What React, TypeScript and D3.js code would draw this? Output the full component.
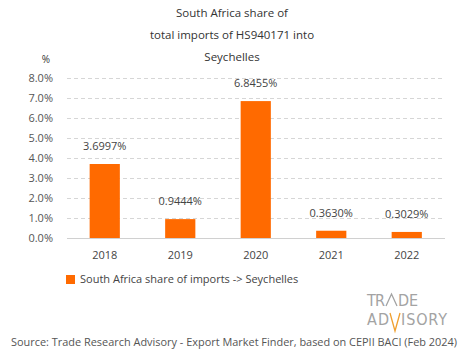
import React, { useEffect, useRef } from "react";
import * as d3 from "d3";

const years = ["2018", "2019", "2020", "2021", "2022"];
const shares = [3.6997, 0.9444, 6.8455, 0.363, 0.3029];
const yTicks = [0, 1, 2, 3, 4, 5, 6, 7, 8];
const titleLines = ["South Africa share of", "total imports of HS940171 into", "Seychelles"];
const legendLabel = "South Africa share of imports -> Seychelles";
const sourceText = "Source: Trade Research Advisory - Export Market Finder, based on CEPII BACI (Feb 2024)";

const W = 465;
const H = 359;
const FONT = "'Open Sans', sans-serif";
const ORANGE = "#ff6a00";

export default function App() {
  const ref = useRef<SVGSVGElement>(null);

  useEffect(() => {
    const svg = d3.select(ref.current);
    svg.selectAll("*").remove();

    const margin = { top: 78, right: 20, bottom: 121, left: 67 };
    const x = d3
      .scaleBand()
      .domain(years)
      .range([margin.left, W - margin.right - 0.5])
      .paddingInner(0.6)
      .paddingOuter(0.3);
    const y = d3.scaleLinear().domain([0, 8]).range([H - margin.bottom, margin.top]);

    // title
    svg
      .append("g")
      .selectAll("text")
      .data(titleLines)
      .enter()
      .append("text")
      .attr("x", 232)
      .attr("y", (d, i) => 17 + i * 22)
      .attr("text-anchor", "middle")
      .attr("font-size", 11.5)
      .attr("fill", "#333")
      .text((d) => d);

    svg
      .append("text")
      .attr("x", 46)
      .attr("y", 63)
      .attr("text-anchor", "middle")
      .attr("font-size", 10)
      .attr("fill", "#333")
      .text("%");

    // grid lines
    svg
      .append("g")
      .selectAll("line")
      .data(yTicks.filter((d) => d > 0))
      .enter()
      .append("line")
      .attr("x1", margin.left)
      .attr("x2", W - margin.right)
      .attr("y1", (d) => Math.round(y(d)) + 0.5)
      .attr("y2", (d) => Math.round(y(d)) + 0.5)
      .attr("stroke", "#d6d6d6")
      .attr("stroke-dasharray", "4,3");

    // baseline
    svg
      .append("line")
      .attr("x1", margin.left)
      .attr("x2", W - margin.right)
      .attr("y1", y(0) + 0.5)
      .attr("y2", y(0) + 0.5)
      .attr("stroke", "#d0d0d0");

    // y tick labels
    svg
      .append("g")
      .selectAll("text")
      .data(yTicks)
      .enter()
      .append("text")
      .attr("x", 53)
      .attr("y", (d) => y(d) + 4)
      .attr("text-anchor", "end")
      .attr("font-size", 11)
      .attr("fill", "#555")
      .text((d) => d.toFixed(1) + "%");

    // bars
    svg
      .append("g")
      .selectAll("rect")
      .data(shares)
      .enter()
      .append("rect")
      .attr("x", (d, i) => x(years[i])!)
      .attr("y", (d) => y(d))
      .attr("width", x.bandwidth())
      .attr("height", (d) => y(0) - y(d))
      .attr("fill", ORANGE);

    // value labels
    svg
      .append("g")
      .selectAll("text")
      .data(shares)
      .enter()
      .append("text")
      .attr("x", (d, i) => x(years[i])! + x.bandwidth() / 2)
      .attr("y", (d) => y(d) - 14)
      .attr("text-anchor", "middle")
      .attr("font-size", 11)
      .attr("fill", "#444")
      .text((d) => d.toFixed(4) + "%");

    // x labels
    svg
      .append("g")
      .selectAll("text")
      .data(years)
      .enter()
      .append("text")
      .attr("x", (d) => x(d)! + x.bandwidth() / 2)
      .attr("y", 259)
      .attr("text-anchor", "middle")
      .attr("font-size", 11)
      .attr("fill", "#444")
      .text((d) => d);

    // legend
    svg
      .append("rect")
      .attr("x", 66)
      .attr("y", 275)
      .attr("width", 9)
      .attr("height", 9)
      .attr("fill", ORANGE);
    svg
      .append("text")
      .attr("x", 80)
      .attr("y", 283)
      .attr("font-size", 11)
      .attr("fill", "#444")
      .text(legendLabel);

    // logo: TR/\DE over AD\/ISORY
    const logo = svg
      .append("g")
      .attr("font-family", "'Liberation Sans Narrow', 'DejaVu Sans Condensed', sans-serif")
      .attr("font-size", 16)
      .attr("fill", "#a3a3a3");
    logo.append("text").attr("x", 367).attr("y", 306).attr("textLength", 18).text("TR");
    logo.append("text").attr("x", 398).attr("y", 306).attr("textLength", 20).text("DE");
    logo.append("text").attr("x", 367).attr("y", 325).attr("textLength", 22).text("AD");
    logo.append("text").attr("x", 401).attr("y", 325).attr("textLength", 46).text("ISORY");
    logo
      .append("path")
      .attr("d", "M386,306 L391.5,294 L397,306")
      .attr("fill", "none")
      .attr("stroke", "#a3a3a3")
      .attr("stroke-width", 1.3);
    logo
      .append("path")
      .attr("d", "M390,313 L395,331 L400,313")
      .attr("fill", "none")
      .attr("stroke", "#f0a030")
      .attr("stroke-width", 1.3);

    // source
    svg
      .append("text")
      .attr("x", 11)
      .attr("y", 346)
      .attr("textLength", 446)
      .attr("lengthAdjust", "spacingAndGlyphs")
      .attr("font-size", 11)
      .attr("fill", "#555")
      .text(sourceText);
  }, []);

  return (
    <svg
      ref={ref}
      width={W}
      height={H}
      style={{ position: "absolute", left: 0, top: 0, fontFamily: FONT, background: "#fff" }}
    />
  );
}
